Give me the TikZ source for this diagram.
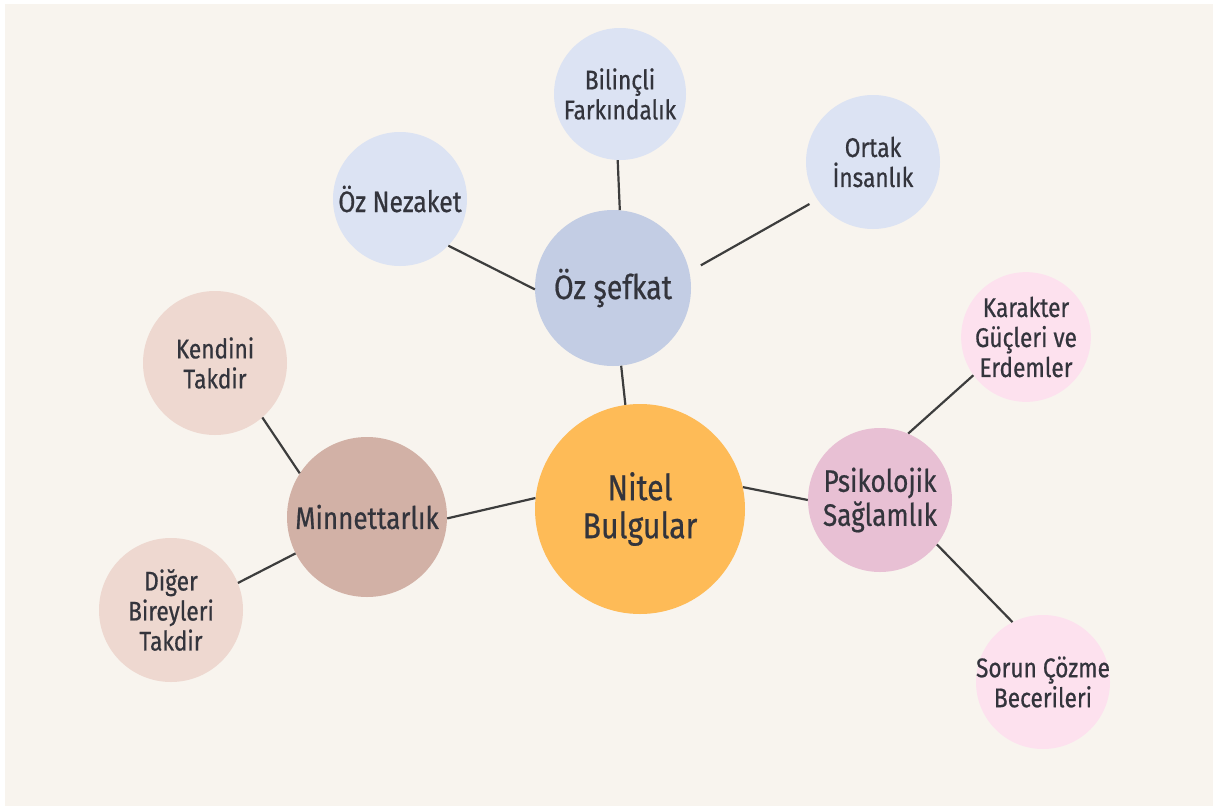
\documentclass[tikz,border=0pt]{standalone}
\usepackage{fontspec}
\setmainfont{Fira Sans}[FakeStretch=0.84,FakeBold=0.6]
\definecolor{bgc}{HTML}{F8F4EE}
\definecolor{txt}{HTML}{33343C}
\definecolor{linec}{HTML}{3D3D3D}
\definecolor{orange}{HTML}{FEBB57}
\definecolor{blueM}{HTML}{C3CDE4}
\definecolor{blueL}{HTML}{DCE3F3}
\definecolor{brownM}{HTML}{D2B1A6}
\definecolor{brownL}{HTML}{EED8D0}
\definecolor{pinkM}{HTML}{E8C0D4}
\definecolor{pinkL}{HTML}{FDE1EE}
\tikzset{
  bubble/.style={circle, inner sep=0pt, align=center, text=txt},
  big/.style={bubble, font=\fontsize{36}{38}\selectfont},
  mid/.style={bubble, font=\fontsize{31}{34}\selectfont},
  small/.style={bubble, font=\fontsize{27}{30}\selectfont},
  conn/.style={draw=linec, line width=2.2pt}
}
\begin{document}
\begin{tikzpicture}[x=1pt,y=-1pt]
\fill[white] (0,0) rectangle (1213,806);
\fill[bgc] (5,4) rectangle (1213,806);
\useasboundingbox (0,0) rectangle (1213,806);
% nodes
\node[big, fill=orange, minimum size=210pt] (nitel) at (640,509) {Nitel\\Bulgular};
\node[mid, fill=blueM, minimum size=156pt, font=\fontsize{34}{36}\selectfont] (sef) at (613,288) {Öz şefkat};
\node[small, fill=blueL, minimum size=132pt] (bil) at (620,94) {Bilinçli\\Farkındalık};
\node[small, fill=blueL, minimum size=134pt] (ortak) at (873,162) {Ortak\\İnsanlık};
\node[small, fill=blueL, minimum size=134pt, font=\fontsize{29.5}{32}\selectfont] (nez) at (400,199) {Öz Nezaket};
\node[mid, fill=brownM, minimum size=160pt] (minn) at (367,517) {Minnettarlık};
\node[small, fill=brownL, minimum size=144pt] (kend) at (215,363) {Kendini\\Takdir};
\node[small, fill=brownL, minimum size=144pt] (diger) at (171,610) {Diğer\\Bireyleri\\Takdir};
\node[mid, fill=pinkM, minimum size=144pt] (psik) at (880,500) {Psikolojik\\Sağlamlık};
\node[small, fill=pinkL, minimum size=128pt] (kar) at (1026,337) {Karakter\\Güçleri ve\\Erdemler};
\node[small, fill=pinkL, minimum size=134pt,
  label={[small, inner sep=0pt]center:Sorun Çözme\\Becerileri}] (sorun) at (1043,682) {};
% connectors
\draw[conn] (sef.-84) -- (nitel.98);
\draw[conn] (nez.-44) -- (sef.181);
\draw[conn] (bil.-92) -- (sef.85);
\draw[conn, shorten <=13pt, shorten >=9pt] (sef.12) -- (ortak.214);
\draw[conn] (minn.-1) -- (nitel.174);
\draw[conn] (kend.-49) -- (minn.147);
\draw[conn] (diger.22) -- (minn.207);
\draw[conn] (nitel.12) -- (psik.180);
\draw[conn] (psik.67) -- (kar.216);
\draw[conn] (psik.-38) -- (sorun.117);
\end{tikzpicture}
\end{document}
